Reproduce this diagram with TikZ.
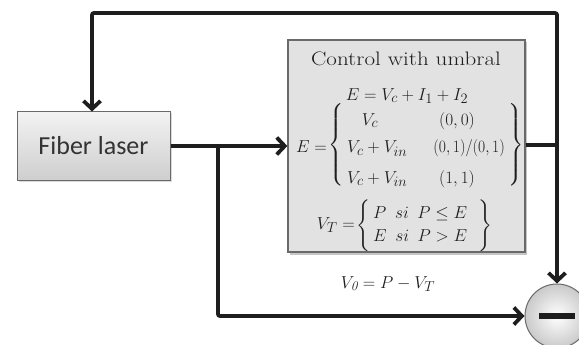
\documentclass[tikz,border=0pt]{standalone}
\usepackage{amsmath}
\usepackage{graphicx}
\usepackage{fontspec}
\newfontfamily\calibri{Carlito}
\usetikzlibrary{arrows.meta,shadows,calc}
\definecolor{ctrlfill}{HTML}{E2E2E2}
\definecolor{boxline}{HTML}{6A6A6A}
\definecolor{ink}{HTML}{1E1E1E}
\newcommand{\bracefill}[1]{\vcenter{\hrule height #1 depth #1 width 0pt}}
\tikzset{
  wire/.style={line width=3.8pt, draw=ink, rounded corners=2pt},
  arr/.style={wire, -{Straight Barb[length=8pt,width=17pt,line width=3.8pt]}},
  laserbox/.style={draw=boxline, line width=1pt, minimum width=153pt, minimum height=68pt,
    top color=gray!10, bottom color=gray!38, drop shadow={shadow xshift=1.5pt, shadow yshift=-1.5pt, opacity=0.3},
    font=\calibri\fontsize{26}{30}\selectfont, text=black!80},
  ctrlbox/.style={draw=boxline, line width=1.3pt, fill=ctrlfill, minimum width=237pt, minimum height=212pt,
    drop shadow={shadow xshift=2pt, shadow yshift=-2.5pt, opacity=0.45}},
  subcircle/.style={circle, draw=boxline, line width=1pt, minimum size=64pt,
    inner color=white, outer color=gray!42},
  txt/.style={inner sep=0pt, text=ink, font=\fontsize{19}{23}\selectfont}
}
\begin{document}
\begin{tikzpicture}[x=1pt,y=-1pt]
\useasboundingbox (0,0) rectangle (579,345);
\node[laserbox] (fl) at (93.5,146) {Fiber laser};
\node[ctrlbox] (cb) at (406.5,146) {};
\node[subcircle] (sub) at (557,316) {};
\fill[ink] ($(sub.center)+(-18,-3.2)$) rectangle ($(sub.center)+(18,3.2)$);

\node[txt, anchor=base, font=\fontsize{19.5}{23}\selectfont] (title) at (406,66) {\scalebox{1.18}[1]{Control with umbral}};
\node[txt, anchor=base] (eq1) at (407,100) {$E = V_c + I_1 + I_2$};

\node[txt, anchor=base east] (elhs) at (327,153) {$E =$};
\node[txt] (lb1) at (337,145) {$\left\{\bracefill{40pt}\right.$};
\node[txt, anchor=base] (r1a) at (370,125) {$V_c$};
\node[txt, anchor=base] (r1b) at (457,125) {$(0,0)$};
\node[txt, anchor=base west] (r2a) at (347,153) {$V_c + V_{in}$};
\node[txt, anchor=base east] (r2b) at (505,153) {\scalebox{0.9}[1]{$(0,1)/(0,1)$}};
\node[txt, anchor=base west] (r3a) at (347,183) {$V_c + V_{in}$};
\node[txt, anchor=base] (r3b) at (457,183) {$(1,1)$};
\node[txt] (rb1) at (516,145) {$\left.\bracefill{40pt}\right\}$};

\node[txt, anchor=base east] (vlhs) at (355,229) {$V_T =$};
\node[txt] (lb2) at (364,226) {$\left\{\bracefill{24pt}\right.$};
\node[txt, anchor=base west] (v1) at (373,218) {$P\ \,si\ \,P \le E$};
\node[txt, anchor=base west] (v2) at (373,241) {$E\ \,si\ \,P > E$};
\node[txt] (rb2) at (485,226) {$\left.\bracefill{24pt}\right\}$};

\node[txt, anchor=base] (eq4) at (388,288) {$V_{\mathit{0}} = P - V_T$};

\coordinate (j) at (557,145);
\coordinate (b) at (218,146);
\coordinate (tl) at (92,13);
\draw[wire] (cb.east |- j) -- (j);
\draw[arr] (j) |- (tl) -- (tl |- fl.north);
\draw[arr] (j) -- (sub.north);
\draw[arr] (fl.east) -- (fl.east -| cb.west);
\draw[arr] (b) |- (sub.west);
\end{tikzpicture}
\end{document}
